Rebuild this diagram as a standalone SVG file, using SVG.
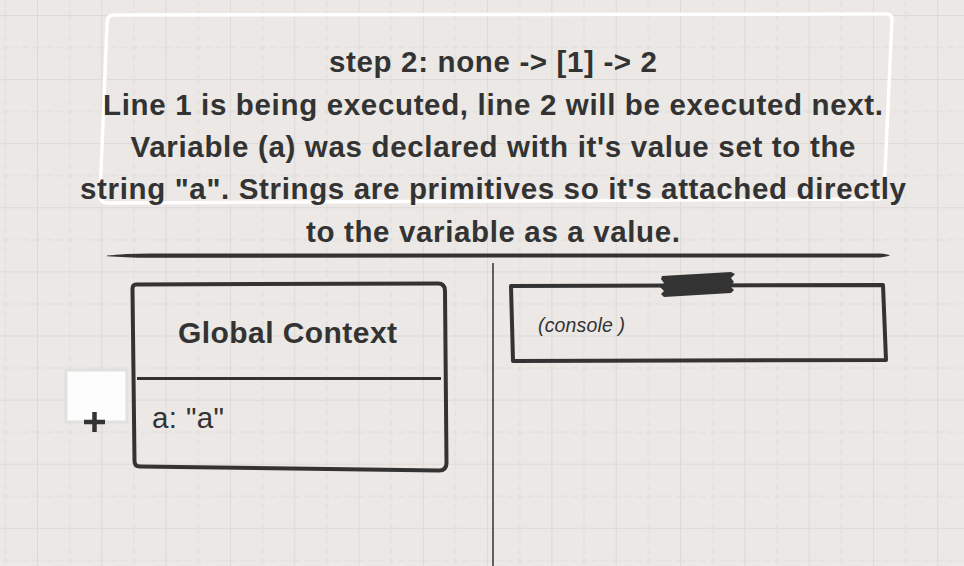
<svg xmlns="http://www.w3.org/2000/svg" width="964" height="566" viewBox="0 0 964 566">
<defs>
<style>
.t{font-family:"Liberation Sans",Arial,Helvetica,sans-serif;fill:#333;}
.b{font-weight:bold;}
.ink{fill:none;stroke:#333;stroke-linecap:round;stroke-linejoin:round;}
.gs{stroke:#dcd9d6;stroke-width:1;}
.gd{stroke:#dedbd8;stroke-width:1;stroke-dasharray:6 4;}
</style>
<pattern id="grid" patternUnits="userSpaceOnUse" x="37" y="15" width="64.3" height="64.1">
<line class="gs" x1="0.5" y1="0" x2="0.5" y2="64.1"/>
<line class="gs" x1="0" y1="0.5" x2="64.3" y2="0.5"/>
<line class="gd" x1="32.65" y1="0" x2="32.65" y2="64.1"/>
<line class="gd" x1="0" y1="32.55" x2="64.3" y2="32.55"/>
</pattern>
</defs>
<rect width="964" height="566" fill="#ebe8e5"/>
<rect width="964" height="566" fill="url(#grid)"/>

<g id="note">
<path d="M113,15 L886,14 Q892,14 892,20 L884,194 Q884,199 878,199 L108,203 Q100,203 100,196 L107,24 Q107,15 113,15 Z" fill="none" stroke="#ffffff" stroke-width="3.5" stroke-linejoin="round"/>
<text class="t b" x="493" y="72" font-size="29.5" text-anchor="middle" textLength="328" lengthAdjust="spacing">step 2: none -&gt; [1] -&gt; 2</text>
<text class="t b" x="493" y="114.5" font-size="29.5" text-anchor="middle" textLength="780" lengthAdjust="spacing">Line 1 is being executed, line 2 will be executed next.</text>
<text class="t b" x="493" y="157" font-size="29.5" text-anchor="middle" textLength="725" lengthAdjust="spacing">Variable (a) was declared with it's value set to the</text>
<text class="t b" x="493" y="199" font-size="29.5" text-anchor="middle" textLength="826" lengthAdjust="spacing">string "a". Strings are primitives so it's attached directly</text>
<text class="t b" x="493" y="241.5" font-size="29.5" text-anchor="middle" textLength="374" lengthAdjust="spacing">to the variable as a value.</text>
</g>

<g id="separators">
<path d="M107,255.6 Q125,253.8 150,253.6 L880,253.4 Q887,253.8 890,255.2 Q887,256.6 880,257.4 L150,257.8 Q125,257.6 107,256.2 Z" fill="#333"/>
<line x1="493" y1="263" x2="493" y2="566" stroke="#333" stroke-width="1.5"/>
</g>

<g id="global-context">
<path class="ink" stroke-width="4" d="M136,284.5 L438,283.5 Q445,283.5 445,291 L446.5,463 Q446.5,470.5 439,470.5 L140,466.5 Q134.5,466.5 134.5,461 L132.5,289 Q132.5,284.5 136,284.5 Z"/>
<line x1="137" y1="378.5" x2="441" y2="378.5" stroke="#333" stroke-width="3"/>
<text class="t b" x="287.5" y="343" font-size="30" text-anchor="middle" textLength="219" lengthAdjust="spacing">Global Context</text>
<text class="t" x="152" y="428" font-size="29.5" textLength="72" lengthAdjust="spacing">a: "a"</text>
</g>

<g id="add-button">
<rect x="66" y="370" width="61" height="52" fill="#fdfdfd" stroke="#e3e1df" stroke-width="3"/>
<path d="M84,422 L105,422 M94.5,412 L94.5,432" stroke="#333" stroke-width="4.5" fill="none"/>
</g>

<g id="console">
<path class="ink" stroke-width="4" d="M511,286 L883,285 L886,360 L513,361 Z"/>
<path d="M662,276 L731,272 L735,274 L731,278 L734,282 L730,286 L734,290 L731,293 L664,297 L661,294 L664,291 L660,287 L664,283 L661,279 Z" fill="#333"/>
<text class="t" x="538" y="332" font-size="19.5" font-style="italic" textLength="87" lengthAdjust="spacing">(console )</text>
</g>
</svg>
